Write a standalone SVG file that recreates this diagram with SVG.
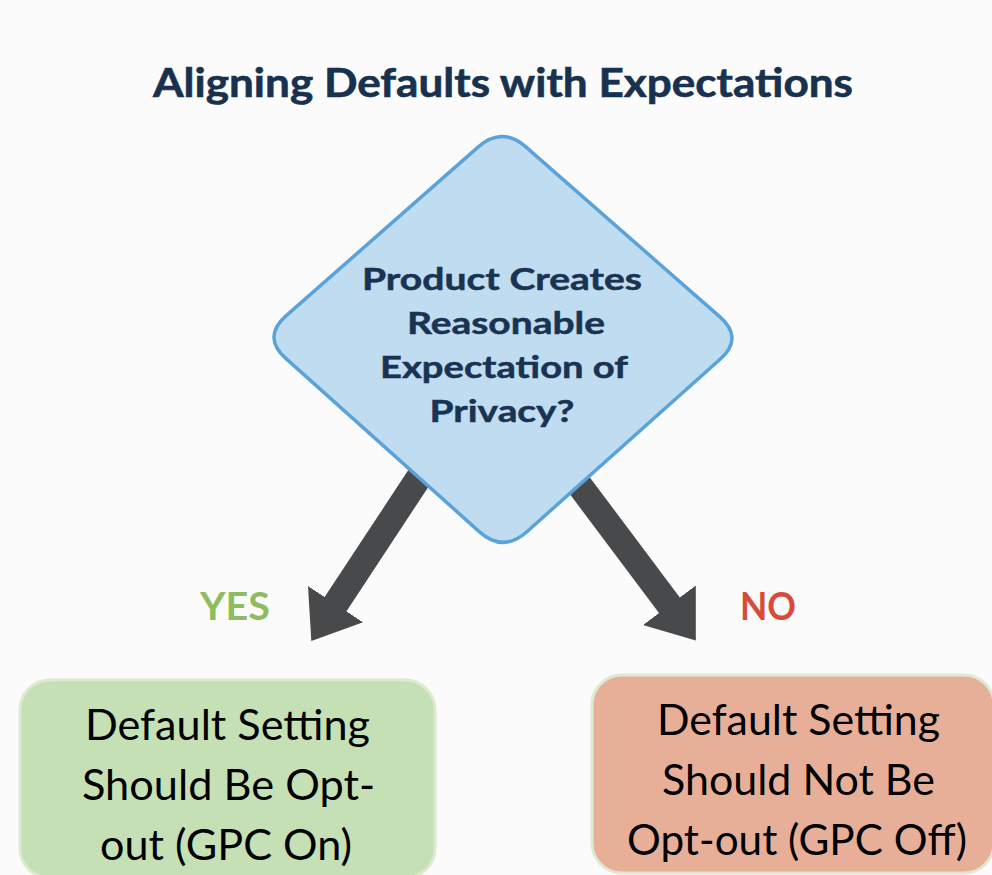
<svg xmlns="http://www.w3.org/2000/svg" width="992" height="875" viewBox="0 0 992 875">
  <defs>
    <style>
      .title { font-family: Lato, "Liberation Sans", sans-serif; font-weight: 700; font-size: 40px; fill: #18314f; stroke: #18314f; stroke-width: 0.6px; }
      .q { font-family: Lato, "Liberation Sans", sans-serif; font-weight: 700; font-size: 31px; fill: #1a3352; stroke: #1a3352; stroke-width: 0.5px; text-anchor: middle; }
      .lbl { font-family: Lato, "Liberation Sans", sans-serif; font-weight: 700; font-size: 39px; }
      .box { font-family: Lato, "Liberation Sans", sans-serif; font-weight: 400; font-size: 42px; fill: #000000; text-anchor: middle; }
      .conn { stroke: #48494b; stroke-width: 26; fill: none; }
    </style>
    <marker id="head" markerUnits="userSpaceOnUse" markerWidth="48" markerHeight="70" viewBox="0 -35 48 70" refX="1" refY="0" orient="auto">
      <path d="M0,-33 L44,0 L0,33 Z" fill="#48494b"/>
    </marker>
  </defs>
  <rect x="0" y="0" width="992" height="875" fill="#fbfbfb"/>

  <g id="title">
    <text class="title" x="153" y="97" textLength="700" lengthAdjust="spacingAndGlyphs">Aligning Defaults with Expectations</text>
  </g>

  <g id="connectors">
    <line class="conn" x1="445" y1="438" x2="335" y2="605" marker-end="url(#head)"/>
    <line class="conn" x1="550" y1="446" x2="670" y2="606" marker-end="url(#head)"/>
    <text class="lbl" x="200" y="620" fill="#8fbc5e" textLength="70" lengthAdjust="spacingAndGlyphs">YES</text>
    <text class="lbl" x="740" y="620" fill="#d84a3a" textLength="56" lengthAdjust="spacingAndGlyphs">NO</text>
  </g>

  <g id="decision">
    <path d="M526.1,147.1 L719.9,316.9 Q744,338 720.1,359.3 L526.9,531.7 Q503,553 479.2,531.6 L285.8,358.4 Q262,337 286,315.9 L478,147.1 Q502,126 526.1,147.1 Z" fill="#bfdcf0" stroke="#5aa3da" stroke-width="3.5"/>
    <text class="q" x="502" y="290" textLength="280" lengthAdjust="spacingAndGlyphs">Product Creates</text>
    <text class="q" x="506" y="334" textLength="198" lengthAdjust="spacingAndGlyphs">Reasonable</text>
    <text class="q" x="504" y="378" textLength="248" lengthAdjust="spacingAndGlyphs">Expectation of</text>
    <text class="q" x="502" y="422" textLength="145" lengthAdjust="spacingAndGlyphs">Privacy?</text>
  </g>

  <g id="yes-box">
    <rect x="20" y="680" width="415" height="198" rx="30" ry="30" fill="#c5e0b4" stroke="#dbead0" stroke-width="3"/>
    <text class="box" x="227.5" y="740" textLength="285" lengthAdjust="spacingAndGlyphs">Default Setting</text>
    <text class="box" x="228.5" y="800" textLength="293" lengthAdjust="spacingAndGlyphs">Should Be Opt-</text>
    <text class="box" x="226" y="860" textLength="252" lengthAdjust="spacingAndGlyphs">out (GPC On)</text>
  </g>

  <g id="no-box">
    <rect x="592" y="675" width="402" height="198" rx="30" ry="30" fill="#e8af98" stroke="#dde9d3" stroke-width="3"/>
    <text class="box" x="798.5" y="735" textLength="283" lengthAdjust="spacingAndGlyphs">Default Setting</text>
    <text class="box" x="798.5" y="795" textLength="273" lengthAdjust="spacingAndGlyphs">Should Not Be</text>
    <text class="box" x="797" y="855" textLength="340" lengthAdjust="spacingAndGlyphs">Opt-out (GPC Off)</text>
  </g>
</svg>
